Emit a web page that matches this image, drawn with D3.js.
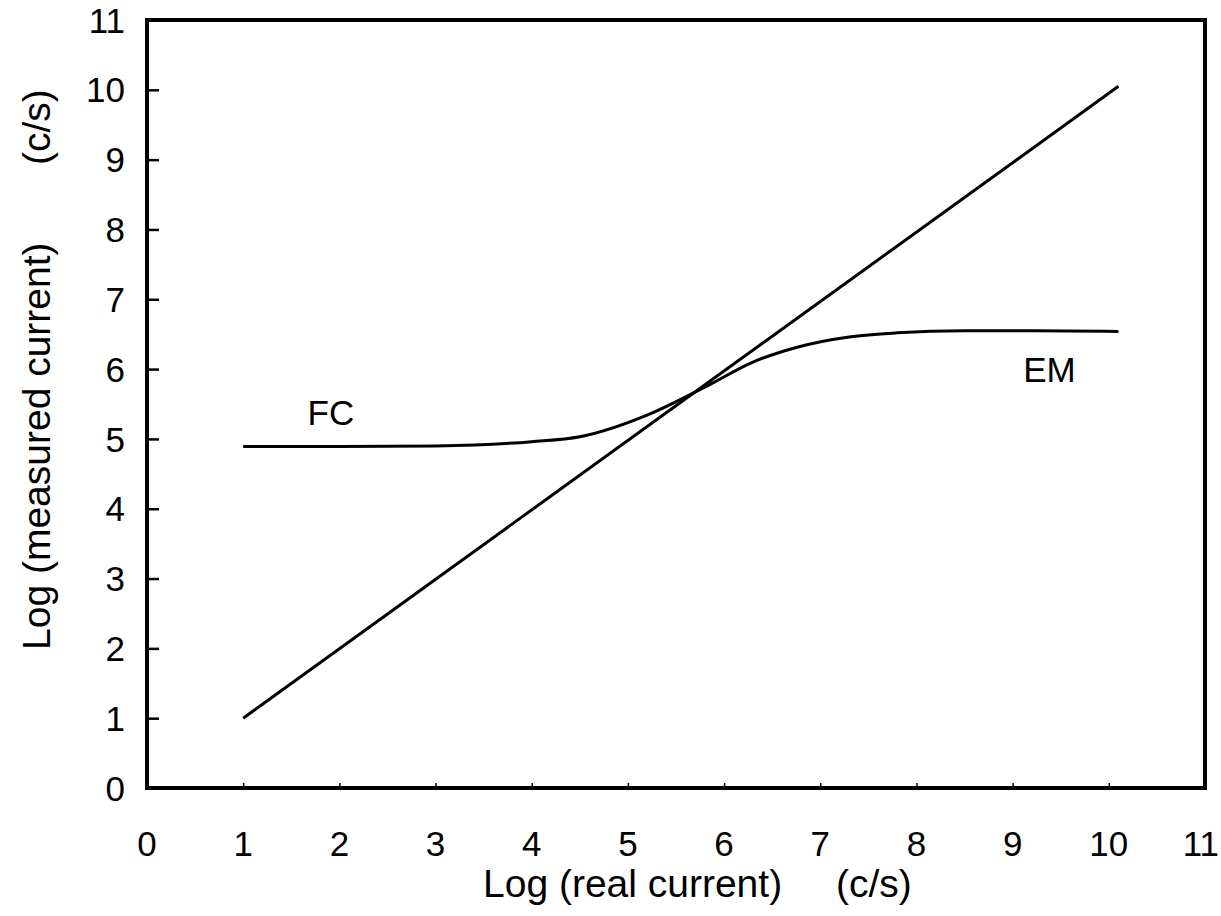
<!DOCTYPE html>
<html>
<head>
<meta charset="utf-8">
<script src="https://cdn.jsdelivr.net/npm/d3@7"></script>
<style>
  body { margin: 0; background: #fff; }
  text { font-family: "Liberation Sans", Arial, sans-serif; fill: #000; }
</style>
</head>
<body>
<div id="chart"></div>
<script>
// values
const xTicks = [0, 1, 2, 3, 4, 5, 6, 7, 8, 9, 10, 11];
const yTicks = [0, 1, 2, 3, 4, 5, 6, 7, 8, 9, 10, 11];

// ideal response (straight line)
const idealX = [1.0, 10.1];
const idealY = [1.0, 10.05];

// FC / EM combined response
const curveX = [1.0, 2.0, 3.0, 4.0, 4.5, 5.2, 5.8, 6.3, 6.75, 7.3, 7.8, 8.5, 9.2, 10.1];
const curveY = [4.89, 4.89, 4.90, 4.96, 5.03, 5.34, 5.74, 6.10, 6.31, 6.46, 6.52, 6.55, 6.55, 6.54];

const labels = [
  { text: "FC", x: 1.67, y: 5.2 },
  { text: "EM", x: 9.11, y: 5.82 }
];

const width = 1221;
const height = 916;
const margin = { top: 20, right: 16, bottom: 128, left: 147 };

const svg = d3.select("#chart").append("svg")
  .attr("width", width)
  .attr("height", height);

const x = d3.scaleLinear()
  .domain([0, 11])
  .range([margin.left, width - margin.right]);

const y = d3.scaleLinear()
  .domain([0, 11])
  .range([height - margin.bottom, margin.top]);

// x ticks (tiny, pointing inward) and labels
svg.append("g")
  .attr("transform", `translate(0,${y(0)})`)
  .call(d3.axisTop(x).tickValues(xTicks.slice(1, -1)).tickSize(5).tickFormat(""))
  .call(g => g.select(".domain").remove())
  .call(g => g.selectAll("line").attr("stroke-width", 1.5));

svg.append("g")
  .selectAll("text")
  .data(xTicks)
  .join("text")
  .attr("x", d => d === 11 ? width - 2 : x(d))
  .attr("y", y(0) + 68)
  .attr("text-anchor", d => d === 11 ? "end" : "middle")
  .style("font-size", "35px")
  .text(d => d);

// y ticks (inward) and labels
svg.append("g")
  .attr("transform", `translate(${x(0)},0)`)
  .call(d3.axisRight(y).tickValues(yTicks.slice(1, -1)).tickSize(12).tickFormat(""))
  .call(g => g.select(".domain").remove())
  .call(g => g.selectAll("line").attr("stroke-width", 2.5));

svg.append("g")
  .selectAll("text")
  .data(yTicks)
  .join("text")
  .attr("x", x(0) - 22)
  .attr("y", d => y(d))
  .attr("dy", "0.36em")
  .attr("text-anchor", "end")
  .style("font-size", "35px")
  .text(d => d);

// frame
svg.append("rect")
  .attr("x", x(0))
  .attr("y", y(11))
  .attr("width", x(11) - x(0))
  .attr("height", y(0) - y(11))
  .attr("fill", "none")
  .attr("stroke", "#000")
  .attr("stroke-width", 4);

// lines
const line = d3.line()
  .x(d => x(d[0]))
  .y(d => y(d[1]));

svg.append("path")
  .datum(d3.zip(idealX, idealY))
  .attr("d", line)
  .attr("fill", "none")
  .attr("stroke", "#000")
  .attr("stroke-width", 3);

svg.append("path")
  .datum(d3.zip(curveX, curveY))
  .attr("d", line.curve(d3.curveMonotoneX))
  .attr("fill", "none")
  .attr("stroke", "#000")
  .attr("stroke-width", 3);

// curve labels
svg.selectAll(".curve-label")
  .data(labels)
  .join("text")
  .attr("class", "curve-label")
  .attr("x", d => x(d.x))
  .attr("y", d => y(d.y))
  .style("font-size", "35px")
  .text(d => d.text);

// axis titles
svg.append("text")
  .attr("x", 483)
  .attr("y", 897)
  .style("font-size", "39px")
  .text("Log (real current)");

svg.append("text")
  .attr("x", 836)
  .attr("y", 897)
  .style("font-size", "39px")
  .text("(c/s)");

svg.append("text")
  .attr("transform", "translate(50,650) rotate(-90)")
  .style("font-size", "39px")
  .text("Log (measured current)");

svg.append("text")
  .attr("transform", "translate(50,165) rotate(-90)")
  .style("font-size", "39px")
  .text("(c/s)");
</script>
</body>
</html>
